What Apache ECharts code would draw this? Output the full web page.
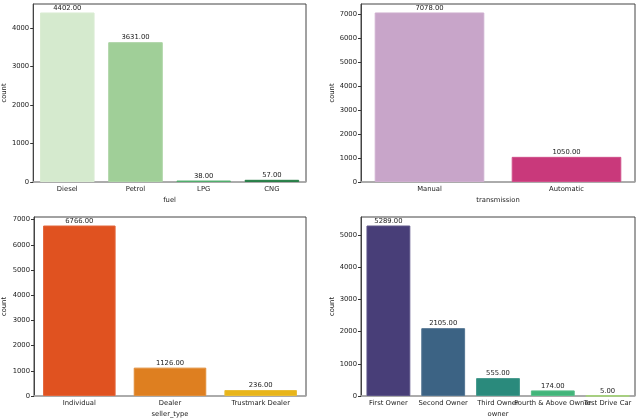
<!DOCTYPE html>
<html lang="en">
<head>
  <meta charset="UTF-8">
  <script src="https://cdn.jsdelivr.net/npm/echarts@6/dist/echarts.min.js"></script>
  <style>
    body { margin: 0; background: #fff; }
    #container { width: 640px; height: 419px; }
  </style>
</head>
<body>
  <div id="container"></div>
  <script>
    // data for the four count plots
    var fuelCats = ['Diesel', 'Petrol', 'LPG', 'CNG'];
    var fuelCounts = [4402, 3631, 38, 57];
    var transCats = ['Manual', 'Automatic'];
    var transCounts = [7078, 1050];
    var sellerCats = ['Individual', 'Dealer', 'Trustmark Dealer'];
    var sellerCounts = [6766, 1126, 236];
    var ownerCats = ['First Owner', 'Second Owner', 'Third Owner', 'Fourth & Above Owner', 'Test Drive Car'];
    var ownerCounts = [5289, 2105, 555, 174, 5];

    // palettes
    var fuelColors = ['#d5eace', '#a0cf98', '#3ca45a', '#0b6e30'];
    var transColors = ['#c8a5c9', '#c9397b'];
    var sellerColors = ['#e05220', '#de7f20', '#e8b51a'];
    var ownerColors = ['#483e78', '#3c6384', '#2a8a7c', '#42b57a', '#9ad560'];

    var font = 'DejaVu Sans';
    var fs = 6.8;
    var panels = [
      { cats: fuelCats, vals: fuelCounts, colors: fuelColors, name: 'fuel', left: 32, top: 4, h: 178, gap: 24 },
      { cats: transCats, vals: transCounts, colors: transColors, name: 'transmission', left: 361, top: 4, h: 178, gap: 24 },
      { cats: sellerCats, vals: sellerCounts, colors: sellerColors, name: 'seller_type', left: 32, top: 217, h: 179, gap: 26 },
      { cats: ownerCats, vals: ownerCounts, colors: ownerColors, name: 'owner', left: 361, top: 217, h: 179, gap: 25 }
    ];

    var chart = echarts.init(document.getElementById('container'));
    var grid = [], xAxis = [], yAxis = [], series = [];

    panels.forEach(function (p, i) {
      grid.push({ left: p.left, top: p.top, width: 274, height: p.h, show: true, borderColor: '#444', borderWidth: 1 });
      xAxis.push({
        type: 'category', gridIndex: i, data: p.cats,
        name: p.name, nameLocation: 'middle', nameGap: 15,
        nameTextStyle: { fontFamily: font, fontSize: fs, color: '#222' },
        axisLine: { lineStyle: { color: '#b0b0b0', width: 1.5 } },
        axisTick: { alignWithLabel: true, length: 3, lineStyle: { color: '#333' } },
        axisLabel: { interval: 0, margin: 4, fontFamily: font, fontSize: fs, color: '#222' }
      });
      yAxis.push({
        type: 'value', gridIndex: i, min: 0, interval: 1000,
        max: function (v) { return v.max * 1.05; },
        name: 'count', nameLocation: 'middle', nameGap: p.gap,
        nameTextStyle: { fontFamily: font, fontSize: fs, color: '#222' },
        splitLine: { show: false },
        axisLine: { show: true, lineStyle: { color: '#444' } },
        axisTick: { show: true, length: 3, lineStyle: { color: '#333' } },
        axisLabel: {
          showMaxLabel: false, margin: 4, fontFamily: font, fontSize: fs, color: '#222',
          formatter: function (v) { return String(v); }
        }
      });
      series.push({
        type: 'bar', xAxisIndex: i, yAxisIndex: i,
        barCategoryGap: '20%',
        data: p.vals.map(function (v, j) {
          return {
            value: v,
            itemStyle: { color: p.colors[j], borderColor: echarts.color.lift(p.colors[j], 0.12), borderWidth: 1 }
          };
        }),
        label: {
          show: true, position: 'top', distance: 1,
          fontFamily: font, fontSize: fs, color: '#222',
          formatter: function (d) { return d.value.toFixed(2); }
        }
      });
    });

    chart.setOption({ animation: false, grid: grid, xAxis: xAxis, yAxis: yAxis, series: series });
  </script>
</body>
</html>
